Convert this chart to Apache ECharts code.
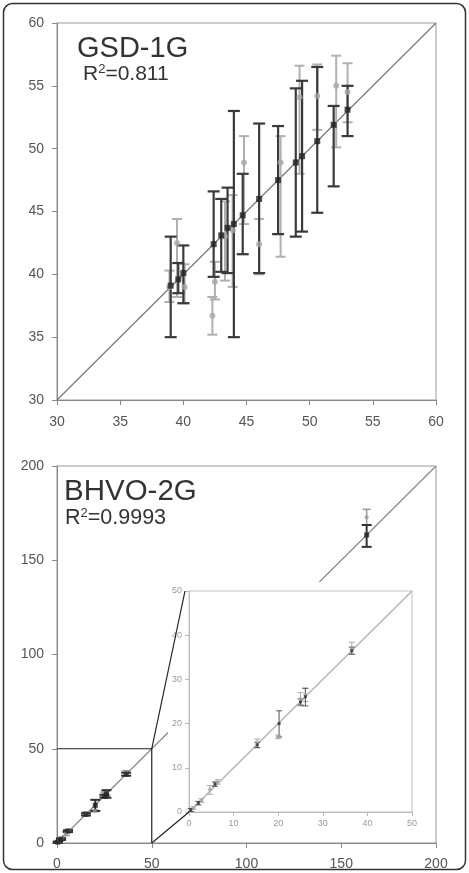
<!DOCTYPE html>
<html>
<head>
<meta charset="utf-8">
<script src="https://cdn.jsdelivr.net/npm/echarts@6/dist/echarts.min.js"></script>
<style>
html, body { margin: 0; padding: 0; background: #fff; }
#chart { width: 469px; height: 873px; }
</style>
</head>
<body>
<div id="chart"></div>
<script>
// axis ranges: [min, max, step]
const gsdRange = [30, 60, 5]
const bhvoRange = [0, 200, 50]
const insetRange = [0, 50, 10]
// area of the main BHVO-2G plot that is blown up in the inset
const zoomBox = [0, 50]

// GSD-1G, each row: [x, y, low, high]
const gsdBlack = [
  [39.0, 39.1, 35.0, 43.0],
  [39.6, 39.6, 38.5, 40.9],
  [40.0, 40.1, 37.7, 42.3],
  [42.4, 42.4, 39.8, 46.6],
  [43.0, 43.1, 40.2, 46.0],
  [43.5, 43.7, 40.1, 46.9],
  [44.0, 44.0, 35.0, 53.0],
  [44.7, 44.7, 41.6, 48.0],
  [46.0, 46.0, 40.1, 52.0],
  [47.5, 47.5, 43.2, 51.8],
  [48.9, 48.9, 43.0, 54.8],
  [49.4, 49.4, 43.4, 55.4],
  [50.6, 50.6, 44.9, 56.5],
  [51.9, 51.9, 47.0, 53.4],
  [53.0, 53.1, 51.0, 55.0]
]
const gsdGray = [
  [38.9, 39.0, 37.8, 40.3],
  [39.5, 42.5, 38.2, 44.4],
  [40.1, 39.0, 37.7, 40.8],
  [42.3, 36.7, 35.2, 38.2],
  [42.5, 39.4, 38.0, 41.0],
  [43.3, 43.0, 39.5, 45.8],
  [43.9, 43.5, 39.0, 46.3],
  [44.8, 48.9, 44.0, 51.0],
  [46.0, 42.4, 40.0, 44.4],
  [47.7, 48.9, 41.4, 51.0],
  [49.2, 54.1, 48.0, 56.6],
  [50.6, 54.2, 51.5, 56.7],
  [52.1, 55.0, 50.1, 57.4],
  [53.0, 54.5, 52.1, 56.8]
]

// BHVO-2G, each row: [x, y, low, high]
const bhvoBlack = [
  [0.4, 0.45, 0.1, 0.8],
  [2.1, 2.0, 1.6, 2.4],
  [5.8, 6.3, 5.8, 6.8],
  [15.3, 15.2, 14.6, 15.8],
  [20.2, 20.0, 17.0, 22.9],
  [25.0, 24.9, 24.2, 25.6],
  [26.1, 26.1, 24.0, 28.0],
  [36.5, 36.5, 35.7, 37.3],
  [163.4, 163.4, 157.1, 168.7]
]
const bhvoGray = [
  [1.0, 0.9, 0.6, 1.2],
  [2.8, 2.6, 2.2, 3.0],
  [4.7, 5.1, 4.0, 6.0],
  [6.4, 6.8, 6.3, 7.3],
  [15.3, 15.5, 14.5, 16.5],
  [20.0, 17.0, 16.6, 17.4],
  [25.0, 25.5, 24.0, 27.0],
  [26.1, 26.6, 25.0, 28.0],
  [36.5, 36.8, 35.7, 38.4],
  [163.4, 172.8, 168.7, 177.0]
]

const FONT = '"Liberation Sans", Arial, Helvetica, sans-serif'

function axis(grid, range, opt, margin) {
  return {
    gridIndex: grid, type: 'value', min: range[0], max: range[1], interval: range[2],
    z: opt.z || 0,
    axisLine: { show: true, lineStyle: { color: opt.line, width: 1 } },
    axisTick: { show: true, length: opt.tick, lineStyle: { color: opt.line } },
    splitLine: { show: false },
    axisLabel: { color: opt.label, fontSize: opt.size, fontFamily: FONT, margin: margin }
  }
}

// vertical error bars with caps, drawn through the axes
function bars(data, grid, color, width, cap, z) {
  return {
    type: 'custom', xAxisIndex: grid, yAxisIndex: grid, z: z, silent: true,
    data: data, encode: { x: 0, y: [2, 3] },
    renderItem: function (params, api) {
      let top = api.coord([api.value(0), api.value(3)])
      let bot = api.coord([api.value(0), api.value(2)])
      let st = { stroke: color, lineWidth: width }
      return { type: 'group', children: [
        { type: 'line', shape: { x1: top[0], y1: top[1], x2: bot[0], y2: bot[1] }, style: st },
        { type: 'line', shape: { x1: top[0] - cap, y1: top[1], x2: top[0] + cap, y2: top[1] }, style: st },
        { type: 'line', shape: { x1: bot[0] - cap, y1: bot[1], x2: bot[0] + cap, y2: bot[1] }, style: st }
      ] }
    }
  }
}

function dots(data, grid, symbol, color, size, z) {
  return {
    type: 'scatter', xAxisIndex: grid, yAxisIndex: grid, z: z, silent: true,
    symbol: symbol, symbolSize: size, itemStyle: { color: color },
    data: data.map(d => [d[0], d[1]])
  }
}

function diagonal(range, grid, color, width, z) {
  return {
    type: 'line', xAxisIndex: grid, yAxisIndex: grid, z: z, silent: true,
    symbol: 'none', lineStyle: { color: color, width: width },
    data: [[range[0], range[0]], [range[1], range[1]]]
  }
}

function label(text, left, top, size, supSize) {
  return {
    text: text, left: left, top: top,
    textStyle: { fontSize: size, fontWeight: 'normal', color: '#333', fontFamily: FONT,
      rich: { s: { fontSize: supSize, fontWeight: 'normal', fontFamily: FONT, color: '#333', padding: [0, 0, 9, 0] } } }
  }
}

const inZoom = d => d[0] <= zoomBox[1]

const mainAxis = { line: '#888', label: '#555', size: 14, tick: 5 }
const insetAxis = { line: '#bbb', label: '#999', size: 9, tick: 4, z: 10 }

let option = {
  animation: false,
  backgroundColor: '#fff',
  title: [
    label('GSD-1G', 72, 29, 29, 12),
    label('R{s|2}=0.811', 78, 58, 21, 13),
    label('BHVO-2G', 59, 472, 29.5, 12),
    label('R{s|2}=0.9993', 60, 502, 21.5, 13)
  ],
  grid: [
    { left: 57, top: 23, width: 379, height: 377, show: true, borderColor: '#999', borderWidth: 1 },
    { left: 57, top: 466, width: 379, height: 377, show: true, borderColor: '#999', borderWidth: 1 },
    { left: 189, top: 591, width: 223, height: 221, show: true, borderColor: '#c4c4c4', borderWidth: 1,
      backgroundColor: '#fff', z: 9 }
  ],
  xAxis: [axis(0, gsdRange, mainAxis, 15), axis(1, bhvoRange, mainAxis, 14), axis(2, insetRange, insetAxis, 7)],
  yAxis: [axis(0, gsdRange, mainAxis, 13), axis(1, bhvoRange, mainAxis, 13), axis(2, insetRange, insetAxis, 7)],
  series: [
    diagonal(gsdRange, 0, '#777', 1.2, 2),
    bars(gsdGray, 0, '#b0b0b0', 2, 5, 3),
    bars(gsdBlack, 0, '#3a3a3a', 2.2, 6, 4),
    dots(gsdGray, 0, 'circle', '#a8a8a8', 6, 5),
    dots(gsdBlack, 0, 'rect', '#222', 6, 6),

    diagonal(bhvoRange, 1, '#888', 1.2, 2),
    bars(bhvoGray, 1, '#999', 1.5, 4, 3),
    bars(bhvoBlack, 1, '#333', 2, 5, 4),
    dots(bhvoGray, 1, 'circle', '#999', 4, 5),
    dots(bhvoBlack, 1, 'rect', '#222', 5, 6),

    diagonal(insetRange, 2, '#b5b5b5', 1.5, 11),
    bars(bhvoGray.filter(inZoom), 2, '#aaa', 1, 3, 12),
    bars(bhvoBlack.filter(inZoom), 2, '#555', 1, 3, 13),
    dots(bhvoGray.filter(inZoom), 2, 'circle', '#aaa', 4, 14),
    dots(bhvoBlack.filter(inZoom), 2, 'rect', '#333', 3, 15)
  ]
}

const chart = echarts.init(document.getElementById('chart'), null, { renderer: 'canvas' })
chart.setOption(option)

// zoom box in the main plot and the lines out to the inset
const px = (g, v) => chart.convertToPixel({ gridIndex: g }, v)
const boxTL = px(1, [zoomBox[0], zoomBox[1]])
const boxTR = px(1, [zoomBox[1], zoomBox[1]])
const boxBR = px(1, [zoomBox[1], zoomBox[0]])
const inTL = px(2, [insetRange[0], insetRange[1]])
const inBL = px(2, [insetRange[0], insetRange[0]])
const lineSt = { stroke: '#222', lineWidth: 1.2 }

chart.setOption({
  graphic: [
    { type: 'rect', z: 7, silent: true, shape: { x: 168, y: 582, width: 262, height: 255 }, style: { fill: '#fff' } },
    { type: 'polyline', z: 8, silent: true, shape: { points: [boxTL, boxTR, boxBR] }, style: lineSt },
    { type: 'line', z: 16, silent: true, shape: { x1: boxTR[0], y1: boxTR[1], x2: inTL[0] - 4, y2: inTL[1] }, style: lineSt },
    { type: 'line', z: 16, silent: true, shape: { x1: boxBR[0], y1: boxBR[1], x2: inBL[0], y2: inBL[1] }, style: lineSt },
    { type: 'rect', z: 20, silent: true, shape: { x: 3.5, y: 3.5, width: 462, height: 866, r: 9 },
      style: { fill: 'none', stroke: '#333', lineWidth: 1.5 } }
  ]
})
</script>
</body>
</html>
